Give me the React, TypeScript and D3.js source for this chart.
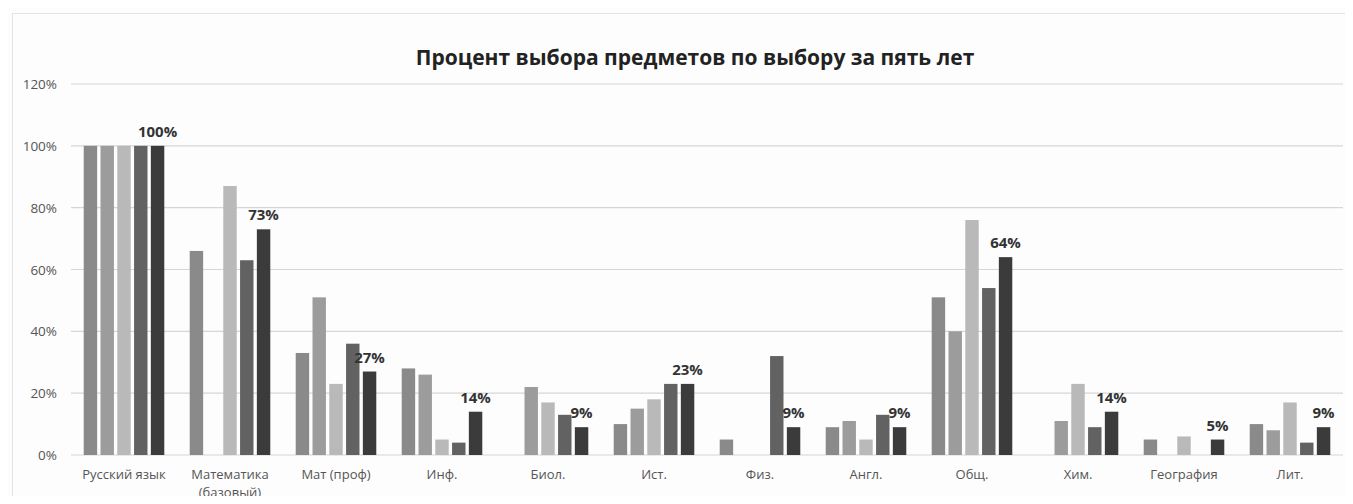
import * as d3 from 'd3';
import React, { useEffect, useRef } from 'react';

const categories = [
  'Русский язык',
  'Математика (базовый)',
  'Мат (проф)',
  'Инф.',
  'Биол.',
  'Ист.',
  'Физ.',
  'Англ.',
  'Общ.',
  'Хим.',
  'География',
  'Лит.',
];

// five years, oldest first
const year1 = [100, 66, 33, 28, 0, 10, 5, 9, 51, 0, 5, 10];
const year2 = [100, 0, 51, 26, 22, 15, 0, 11, 40, 11, 0, 8];
const year3 = [100, 87, 23, 5, 17, 18, 0, 5, 76, 23, 6, 17];
const year4 = [100, 63, 36, 4, 13, 23, 32, 13, 54, 9, 0, 4];
const year5 = [100, 73, 27, 14, 9, 23, 9, 9, 64, 14, 5, 9];

const seriesKeys = ['y1', 'y2', 'y3', 'y4', 'y5'];
const seriesValues = [year1, year2, year3, year4, year5];
const yTicks = [0, 20, 40, 60, 80, 100, 120];

const colors = ['#8a8a8a', '#9c9c9c', '#b9b9b9', '#626262', '#3b3b3b'];

const Chart: React.FC = () => {
  const ref = useRef<SVGSVGElement | null>(null);
  const width = 1353;
  const height = 504;

  useEffect(() => {
    if (!ref.current) return;
    const svg = d3.select(ref.current);
    svg.selectAll('*').remove();

    const margin = { top: 84, right: 10, bottom: 49, left: 71 };
    const plotW = 1343 - margin.left;
    const plotH = height - margin.top - margin.bottom;

    const font = "'Open Sans', 'Noto Sans', sans-serif";

    svg.append('rect').attr('width', width).attr('height', height).attr('fill', '#fdfdfd');
    svg
      .append('rect')
      .attr('x', 12.5)
      .attr('y', 13.5)
      .attr('width', width - 10)
      .attr('height', height)
      .attr('fill', 'none')
      .attr('stroke', '#e4e4e4');

    const x0 = d3.scaleBand().domain(categories).range([0, plotW]).paddingInner(0.24).paddingOuter(0.12);
    const x1 = d3.scaleBand().domain(seriesKeys).range([0, x0.bandwidth()]).paddingInner(0.2).paddingOuter(0);
    const y = d3.scaleLinear().domain([0, 120]).range([plotH, 0]);

    const g = svg.append('g').attr('transform', `translate(${margin.left},${margin.top})`);

    // gridlines
    g.selectAll('.grid')
      .data(yTicks)
      .enter()
      .append('line')
      .attr('x1', 0)
      .attr('x2', plotW)
      .attr('y1', (d) => y(d))
      .attr('y2', (d) => y(d))
      .attr('stroke', '#d6d6d6')
      .attr('stroke-width', 1.2);

    // y labels
    g.selectAll('.ylab')
      .data(yTicks)
      .enter()
      .append('text')
      .attr('x', -14)
      .attr('y', (d) => y(d) + 5)
      .attr('text-anchor', 'end')
      .style('font-family', font)
      .style('font-size', '13.5px')
      .style('fill', '#555')
      .text((d) => `${d}%`);

    const rows = categories.map((c, i) => ({ category: c, values: seriesValues.map((s) => s[i]) }));

    const groups = g
      .selectAll('.grp')
      .data(rows)
      .enter()
      .append('g')
      .attr('transform', (d) => `translate(${x0(d.category)},0)`);

    groups
      .selectAll('rect')
      .data((d) => d.values.map((v, k) => ({ key: seriesKeys[k], v, k })))
      .enter()
      .append('rect')
      .attr('x', (d) => x1(d.key) ?? 0)
      .attr('y', (d) => y(d.v))
      .attr('width', x1.bandwidth())
      .attr('height', (d) => y(0) - y(d.v))
      .attr('fill', (d) => colors[d.k]);

    // labels on last year only
    groups
      .append('text')
      .attr('x', (x1('y5') ?? 0) + x1.bandwidth() / 2)
      .attr('y', (d) => y(d.values[4]) - 9)
      .attr('text-anchor', 'middle')
      .style('font-family', font)
      .style('font-size', '15px')
      .style('font-weight', 'bold')
      .style('fill', '#333')
      .text((d) => `${d.values[4]}%`);

    // category labels
    const catLines: Record<string, string[]> = { 'Математика (базовый)': ['Математика', '(базовый)'] };
    groups.each(function (d) {
      const lines = catLines[d.category] ?? [d.category];
      const t = d3
        .select(this)
        .append('text')
        .attr('text-anchor', 'middle')
        .style('font-family', font)
        .style('font-size', '13px')
        .style('fill', '#555');
      lines.forEach((l, i) => {
        t.append('tspan')
          .attr('x', x0.bandwidth() / 2)
          .attr('y', plotH + 24 + i * 18)
          .text(l);
      });
    });

    svg
      .append('text')
      .attr('x', 695)
      .attr('y', 65)
      .attr('text-anchor', 'middle')
      .style('font-family', font)
      .style('font-size', '21px')
      .style('font-weight', 'bold')
      .style('fill', '#222')
      .text('Процент выбора предметов по выбору за пять лет');
  }, []);

  return <svg ref={ref} width={width} height={height} style={{ display: 'block' }}></svg>;
};

export default function App() {
  return (
    <div style={{ margin: -8 }}>
      <Chart />
    </div>
  );
}
